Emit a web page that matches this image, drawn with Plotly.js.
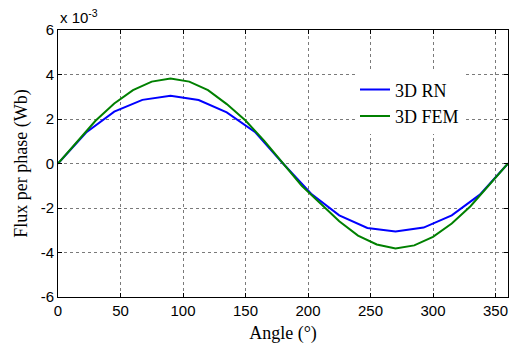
<!DOCTYPE html>
<html>
<head>
<meta charset="utf-8">
<script src="https://cdn.plot.ly/plotly-3.0.1.min.js"></script>
<style>html,body{margin:0;padding:0;background:#fff;}#chart{width:509px;height:346px;}</style>
</head>
<body>
<div id="chart"></div>
<script>
// Angles (degrees)
const angleRN = [0, 22.5, 45, 67.5, 90, 112.5, 135, 157.5, 180, 202.5, 225, 247.5, 270, 292.5, 315, 337.5, 360];
const angleFEM = [0, 15, 30, 45, 60, 75, 90, 105, 120, 135, 150, 165, 180, 195, 210, 225, 240, 255, 270, 285, 300, 315, 330, 345, 360];
// Flux per phase (x 10^-3 Wb)
const fluxRN = [0, 1.39, 2.33, 2.86, 3.05, 2.85, 2.30, 1.42, 0, -1.36, -2.33, -2.90, -3.06, -2.88, -2.33, -1.40, 0];
const fluxFEM = [0, 0.98, 1.92, 2.70, 3.30, 3.68, 3.82, 3.68, 3.30, 2.67, 1.93, 1.02, 0, -1.00, -1.80, -2.60, -3.24, -3.64, -3.82, -3.68, -3.30, -2.70, -1.92, -0.98, 0];
const seriesNames = ['3D RN', '3D FEM'];
const xTicks = [0, 50, 100, 150, 200, 250, 300, 350];
const yTicks = [-6, -4, -2, 0, 2, 4, 6];

const traces = [
  {x: angleRN, y: fluxRN, name: seriesNames[0], mode: 'lines', line: {color: '#0000ff', width: 2}},
  {x: angleFEM, y: fluxFEM, name: seriesNames[1], mode: 'lines', line: {color: '#008000', width: 2}}
];

const axisCommon = {
  showline: true, linecolor: '#000', linewidth: 1, mirror: 'ticks',
  ticks: 'inside', ticklen: 4, tickcolor: '#000',
  showgrid: true, gridcolor: '#7a7a7a', griddash: 'dot', gridwidth: 1,
  zeroline: false,
  tickfont: {family: 'Liberation Sans, Arial, sans-serif', size: 15, color: '#000'}
};

const layout = {
  width: 509, height: 346,
  margin: {l: 58, r: 1, t: 30, b: 49},
  paper_bgcolor: '#fff', plot_bgcolor: '#fff',
  showlegend: true,
  legend: {
    x: 0.66, y: 0.845, xanchor: 'left', yanchor: 'top',
    bgcolor: '#fff', borderwidth: 0,
    font: {family: 'Liberation Serif, Times New Roman, serif', size: 18, color: '#000'},
    tracegroupgap: 0
  },
  xaxis: Object.assign({}, axisCommon, {
    range: [0, 360], tickvals: xTicks, ticktext: xTicks.map(String),
    title: {text: 'Angle (°)', standoff: 8, font: {family: 'Liberation Serif, Times New Roman, serif', size: 18, color: '#000'}}
  }),
  yaxis: Object.assign({}, axisCommon, {
    range: [-6, 6], tickvals: yTicks, ticktext: yTicks.map(String),
    title: {text: 'Flux per phase (Wb)', standoff: 8, font: {family: 'Liberation Serif, Times New Roman, serif', size: 18, color: '#000'}}
  }),
  annotations: [{
    xref: 'paper', yref: 'paper', x: 0, y: 1, xanchor: 'left', yanchor: 'bottom',
    yshift: 2, showarrow: false,
    text: 'x 10<sup>-3</sup>',
    font: {family: 'Liberation Sans, Arial, sans-serif', size: 15, color: '#000'}
  }]
};

Plotly.newPlot('chart', traces, layout, {displayModeBar: false, staticPlot: true});
</script>
</body>
</html>
